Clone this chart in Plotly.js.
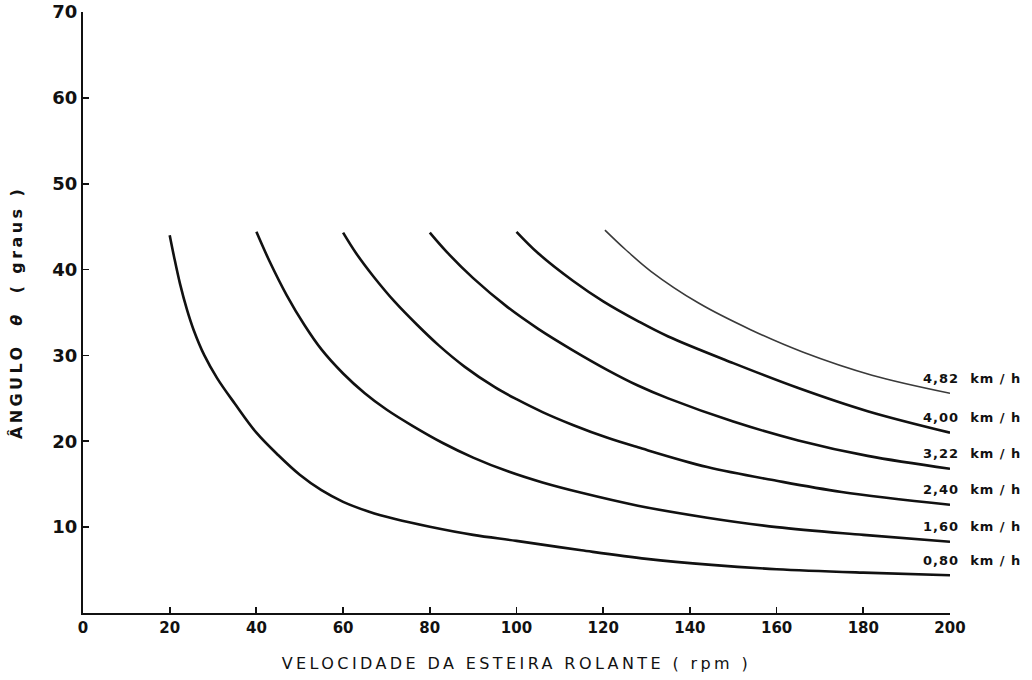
<!DOCTYPE html>
<html>
<head>
<meta charset="utf-8">
<script src="https://cdn.plot.ly/plotly-3.0.1.min.js"></script>
<style>
html,body{margin:0;padding:0;background:#fff;}
#chart{width:1032px;height:680px;}
.xtitle{letter-spacing:3.4px;}
.ytitle{letter-spacing:3.4px;}
.annotation-text{letter-spacing:1px;}
</style>
</head>
<body>
<div id="chart"></div>
<script>
// Tick labels
const xTicks = [0, 20, 40, 60, 80, 100, 120, 140, 160, 180, 200];
const yTicks = [10, 20, 30, 40, 50, 60, 70];

// Series labels (treadmill speed)
const speedLabels = ['0,80\u00a0\u00a0km\u00a0/\u00a0h', '1,60\u00a0\u00a0km\u00a0/\u00a0h', '2,40\u00a0\u00a0km\u00a0/\u00a0h',
                     '3,22\u00a0\u00a0km\u00a0/\u00a0h', '4,00\u00a0\u00a0km\u00a0/\u00a0h', '4,82\u00a0\u00a0km\u00a0/\u00a0h'];

// 0,80 km/h
const rpm080 = [20, 21, 22.4, 24, 25.5, 28, 31, 35, 40, 45, 50, 55, 60, 66, 72, 80, 90, 100, 115, 130, 145, 160, 180, 200];
const ang080 = [44.0, 41.5, 38.3, 35.3, 33.0, 30.0, 27.3, 24.4, 21.0, 18.4, 16.1, 14.3, 12.95, 11.8, 10.95, 10.05, 9.1, 8.4, 7.3, 6.3, 5.6, 5.1, 4.7, 4.4];

// 1,60 km/h
const rpm160 = [40, 43, 47, 51, 55, 60, 65, 70, 76, 83, 90, 98, 106, 115, 128, 144, 160, 180, 200];
const ang160 = [44.4, 41.0, 37.0, 33.6, 30.7, 27.9, 25.6, 23.7, 21.8, 19.8, 18.1, 16.5, 15.2, 14.0, 12.5, 11.1, 10.0, 9.1, 8.3];

// 2,40 km/h
const rpm240 = [60, 63, 67, 72, 77, 82, 88, 95, 100, 106, 113, 121, 128, 144, 160, 175, 200];
const ang240 = [44.3, 41.9, 39.2, 36.2, 33.6, 31.2, 28.7, 26.3, 24.9, 23.4, 21.9, 20.4, 19.3, 17.0, 15.4, 14.1, 12.6];

// 3,22 km/h
const rpm322 = [80, 84, 90, 98, 105, 113, 121, 128, 135, 150, 165, 181, 200];
const ang322 = [44.3, 42.0, 39.0, 35.6, 33.1, 30.6, 28.3, 26.5, 25.0, 22.3, 20.1, 18.3, 16.8];

// 4,00 km/h
const rpm400 = [100, 105, 113, 120, 128, 135, 150, 165, 181, 200];
const ang400 = [44.4, 41.9, 38.7, 36.3, 34.0, 32.2, 29.1, 26.2, 23.5, 21.0];

// 4,82 km/h
const rpm482 = [120.4, 125, 131, 142, 154, 166, 182, 200];
const ang482 = [44.6, 42.4, 39.8, 36.1, 33.0, 30.4, 27.7, 25.6];

const seriesX = [rpm080, rpm160, rpm240, rpm322, rpm400, rpm482];
const seriesY = [ang080, ang160, ang240, ang322, ang400, ang482];

const traces = seriesX.map((xs, i) => ({
  type: 'scatter',
  mode: 'lines',
  x: xs,
  y: seriesY[i],
  name: speedLabels[i],
  line: {
    color: i === 5 ? '#3a3a3a' : '#111',
    width: i === 5 ? 1.6 : 2.6,
    shape: 'spline',
    smoothing: 1
  },
  hoverinfo: 'skip'
}));

const annotations = seriesX.map((xs, i) => ({
  xref: 'x', yref: 'y',
  x: xs[xs.length - 1],
  y: seriesY[i][seriesY[i].length - 1],
  text: speedLabels[i],
  showarrow: false,
  xanchor: 'left',
  yanchor: 'middle',
  xshift: -29,
  yshift: 15,
  font: {family: 'DejaVu Sans', size: 13, color: '#111', weight: 'bold'}
}));

const axisCommon = {
  tickmode: 'array',
  ticks: 'inside',
  ticklen: 6,
  tickwidth: 1.8,
  tickcolor: '#111',
  showline: true,
  linecolor: '#111',
  linewidth: 2,
  showgrid: false,
  zeroline: false,
  automargin: false
};

const layout = {
  width: 1032,
  height: 680,
  margin: {l: 83, r: 82, t: 12, b: 67},
  paper_bgcolor: '#fff',
  plot_bgcolor: '#fff',
  showlegend: false,
  font: {family: 'DejaVu Sans', color: '#111'},
  xaxis: Object.assign({}, axisCommon, {
    range: [0, 200],
    tickvals: xTicks,
    ticktext: xTicks.map(String),
    tickfont: {family: 'DejaVu Sans', size: 15, color: '#111', weight: 'bold'},
    title: {
      text: 'VELOCIDADE DA ESTEIRA ROLANTE ( rpm )',
      font: {family: 'DejaVu Sans', size: 16, color: '#111'},
      standoff: 22
    }
  }),
  yaxis: Object.assign({}, axisCommon, {
    range: [0, 70],
    tickvals: yTicks,
    ticktext: yTicks.map(String),
    tickfont: {family: 'DejaVu Sans', size: 18, color: '#111', weight: 'bold'},
    title: {
      text: 'ÂNGULO  <i>θ</i>  ( graus )',
      font: {family: 'DejaVu Sans', size: 16, color: '#111', weight: 'bold'},
      standoff: 26
    }
  }),
  annotations: annotations
};

Plotly.newPlot('chart', traces, layout, {displayModeBar: false, staticPlot: true});
</script>
</body>
</html>
